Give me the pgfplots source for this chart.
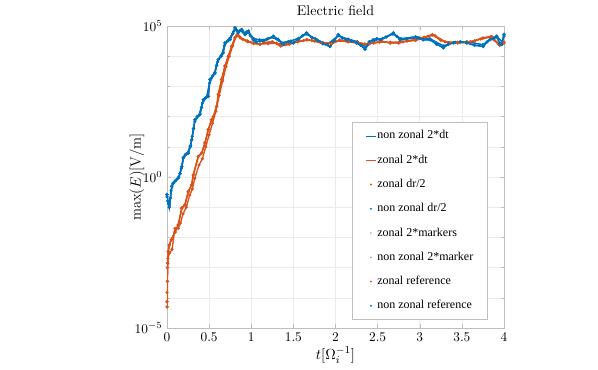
\documentclass[border=0pt]{standalone}
\usepackage{pgfplots}
\pgfplotsset{compat=1.18}
\usepackage{pgfplotstable}
\usepackage{fontspec}
\newfontfamily\legfont{Liberation Serif}
\definecolor{mblue}{RGB}{0,114,189}
\definecolor{morange}{RGB}{217,83,25}
\definecolor{gridc}{RGB}{235,235,235}
\definecolor{axc}{RGB}{190,190,190}

\pgfplotsset{
    lineleg/.style={legend image code/.code={\draw[##1] (0cm,0cm) -- (0.27cm,0cm);}},
    dotleg/.style={legend image code/.code={\path[draw=none] (0cm,0cm) -- (0.27cm,0cm); \fill[#1, draw=none] (0.13cm,0cm) circle (0.8pt);}},
    smalldotleg/.style={legend image code/.code={\path[draw=none] (0cm,0cm) -- (0.27cm,0cm); \fill[#1, draw=none] (0.13cm,0cm) circle (0.55pt);}},
}

% time in units of 1e4 / Omega_i, field in V/m
\pgfplotstableread{
t E
0.000 2.6e-1
0.010 1.6e-1
0.027 1.0e-1
0.040 2.0e-1
0.056 4.9e-1
0.075 6.3e-1
0.100 7.5e-1
0.134 9.3e-1
0.155 1.3e0
0.175 2.2e0
0.193 4.3e0
0.220 5.5e0
0.253 6.2e0
0.275 1.0e1
0.293 1.7e1
0.315 4.0e1
0.332 7.9e1
0.360 1.0e2
0.392 1.2e2
0.410 2.0e2
0.431 3.6e2
0.460 4.2e2
0.490 4.7e2
0.510 1.7e3
0.540 2.2e3
0.570 2.8e3
0.590 5.0e3
0.609 7.8e3
0.640 1.0e4
0.668 1.3e4
0.688 2.75e4
0.720 3.2e4
0.748 3.55e4
0.780 5.5e4
0.807 8.7e4
0.830 7.0e4
0.846 6.0e4
0.870 7.2e4
0.887 7.6e4
0.905 6.2e4
0.926 5.2e4
0.945 6.3e4
0.966 6.8e4
0.990 4.8e4
1.025 3.5e4
1.060 3.0e4
1.104 3.2e4
1.143 3.2e4
1.200 3.8e4
1.262 4.6e4
1.320 3.6e4
1.380 2.5e4
1.440 3.0e4
1.499 2.75e4
1.560 3.6e4
1.610 4.8e4
1.658 5.9e4
1.720 4.2e4
1.777 3.5e4
1.850 2.6e4
1.935 2.1e4
1.990 3.4e4
2.033 5.2e4
2.080 4.0e4
2.133 3.5e4
2.190 3.2e4
2.252 2.75e4
2.300 2.3e4
2.350 1.7e4
2.400 3.0e4
2.449 3.5e4
2.490 3.8e4
2.528 3.5e4
2.600 4.3e4
2.686 5.9e4
2.730 4.5e4
2.766 3.5e4
2.850 3.8e4
2.964 4.1e4
3.040 3.5e4
3.122 3.5e4
3.200 2.5e4
3.280 1.9e4
3.340 2.5e4
3.399 2.75e4
3.480 3.0e4
3.557 2.75e4
3.650 2.3e4
3.754 2.1e4
3.800 3.0e4
3.834 3.5e4
3.880 4.0e4
3.913 4.6e4
3.950 2.6e4
3.973 2.45e4
4.000 5.2e4
}\blueA

\pgfplotstableread{
t E
0.000 2.2e-1
0.015 1.3e-1
0.030 1.2e-1
0.050 3.5e-1
0.070 6.0e-1
0.110 8.0e-1
0.140 1.0e0
0.170 1.9e0
0.200 4.6e0
0.240 6.0e0
0.280 1.1e1
0.300 2.2e1
0.330 7.0e1
0.380 1.1e2
0.420 2.8e2
0.470 4.4e2
0.505 1.3e3
0.560 2.6e3
0.600 6.5e3
0.650 1.1e4
0.680 2.2e4
0.740 3.8e4
0.790 6.5e4
0.815 8.0e4
0.850 6.5e4
0.890 7.0e4
0.930 5.6e4
0.970 6.0e4
1.030 3.8e4
1.100 3.5e4
1.180 3.6e4
1.260 4.2e4
1.360 2.8e4
1.470 3.2e4
1.560 3.9e4
1.650 5.4e4
1.760 3.8e4
1.900 2.4e4
2.030 4.7e4
2.150 3.7e4
2.260 3.0e4
2.360 2.0e4
2.460 3.3e4
2.560 3.9e4
2.680 5.4e4
2.780 3.8e4
2.950 4.4e4
3.120 3.8e4
3.280 2.2e4
3.420 2.9e4
3.560 3.0e4
3.750 2.4e4
3.850 3.8e4
3.920 4.2e4
3.980 3.0e4
4.000 4.6e4
}\blueB

\pgfplotstableread{
t E
0.000 7.4e-5
0.002 5.0e-5
0.004 3.5e-4
0.008 1.4e-3
0.015 3.4e-3
0.027 5.6e-3
0.050 8.3e-3
0.095 1.5e-2
0.134 2.6e-2
0.175 9.3e-2
0.213 1.2e-1
0.253 3.3e-1
0.293 5.5e-1
0.312 1.17e0
0.372 4.8e0
0.412 6.2e0
0.451 1.35e1
0.490 3.7e1
0.530 7.9e1
0.550 1.0e2
0.590 2.2e2
0.609 5.4e2
0.649 1.7e3
0.688 4.7e3
0.728 1.0e4
0.768 2.1e4
0.807 4.1e4
0.834 5.2e4
0.870 4.1e4
0.950 3.2e4
1.025 2.75e4
1.104 2.45e4
1.150 2.8e4
1.250 3.0e4
1.350 2.2e4
1.450 2.5e4
1.550 3.0e4
1.660 3.5e4
1.750 3.2e4
1.850 2.8e4
1.950 2.6e4
2.050 3.4e4
2.150 3.0e4
2.250 2.9e4
2.350 2.5e4
2.450 2.75e4
2.550 3.1e4
2.650 2.75e4
2.750 2.75e4
2.850 3.2e4
2.950 3.5e4
3.050 4.2e4
3.150 5.2e4
3.250 3.4e4
3.350 2.8e4
3.450 2.75e4
3.550 2.9e4
3.650 3.2e4
3.750 4.0e4
3.850 4.5e4
3.950 2.3e4
4.000 2.9e4
}\orangeA

\pgfplotstableread{
t E
0.000 1.5e-4
0.003 1.0e-3
0.010 2.0e-3
0.030 3.0e-3
0.060 4.0e-3
0.095 2.0e-2
0.134 2.0e-2
0.160 3.0e-2
0.190 6.0e-2
0.230 1.0e-1
0.270 2.5e-1
0.300 4.0e-1
0.330 9.0e-1
0.380 2.5e0
0.420 4.0e0
0.460 1.0e1
0.500 2.5e1
0.540 6.0e1
0.580 1.5e2
0.620 5.0e2
0.660 1.5e3
0.700 4.5e3
0.740 1.0e4
0.780 2.2e4
0.820 4.5e4
0.850 4.8e4
0.900 3.6e4
0.960 3.0e4
1.030 2.6e4
1.100 2.5e4
1.200 2.6e4
1.300 2.7e4
1.400 2.4e4
1.500 2.8e4
1.620 3.3e4
1.720 3.3e4
1.850 2.6e4
2.000 3.1e4
2.120 3.2e4
2.250 2.7e4
2.400 2.6e4
2.520 2.9e4
2.650 2.9e4
2.800 3.0e4
2.950 3.3e4
3.100 4.6e4
3.180 4.8e4
3.300 3.0e4
3.450 2.9e4
3.600 3.0e4
3.720 3.7e4
3.830 4.2e4
3.930 2.6e4
4.000 2.7e4
}\orangeB

\begin{document}
\begin{tikzpicture}
\begin{axis}[
    scale only axis,
    width=252.75pt, height=226.5pt,
    xmin=0, xmax=4,
    ymode=log, ymin=1e-5, ymax=1e5,
    xtick={0,0.5,1,1.5,2,2.5,3,3.5,4},
    xticklabels={0,0.5,1,1.5,2,2.5,3,3.5,4},
    ytick={1e-5,1,1e5},
    minor ytick={1e-4,1e-3,1e-2,1e-1,1e1,1e2,1e3,1e4},
    grid=both,
    major grid style={gridc},
    minor grid style={gridc},
    axis line style={axc},
    tick style={axc},
    tick align=inside,
    major tick length=3pt,
    minor tick length=2pt,
    tick label style={font=\fontsize{10}{12}\selectfont, black},
    title={Electric field},
    every axis title shift=0pt,
    title style={at={(axis description cs:0.5,1.05)}, anchor=center, yshift=0pt, font=\fontsize{10.5}{12}\selectfont},
    xlabel={$t[\Omega_i^{-1}]$},
    xlabel style={at={(axis description cs:0.5,-0.09)}, anchor=center, font=\fontsize{11}{13}\selectfont},
    ylabel={$\max(E)[\mathrm{V/m}]$},
    ylabel style={at={(axis description cs:-0.089,0.5)}, anchor=center, rotate=0, font=\fontsize{11}{13}\selectfont},
    legend cell align=left,
    legend style={at={(axis description cs:0.549,0.682)}, anchor=north west,
        draw=axc, font=\legfont\fontsize{9}{10}\selectfont,
        row sep=8.7pt, inner xsep=10pt, inner ysep=5.5pt,
        nodes={inner sep=0.5pt, text height=6.5pt, text depth=2pt}},
]
% legend glyphs
\addlegendimage{mblue, line width=0.6pt, lineleg}
\addlegendentry{non zonal 2*dt}
\addlegendimage{morange, line width=0.6pt, lineleg}
\addlegendentry{zonal 2*dt}
\addlegendimage{dotleg=morange}
\addlegendentry{zonal dr/2}
\addlegendimage{dotleg=mblue}
\addlegendentry{non zonal dr/2}
\addlegendimage{smalldotleg=morange}
\addlegendentry{zonal 2*markers}
\addlegendimage{smalldotleg=mblue}
\addlegendentry{non zonal 2*marker}
\addlegendimage{dotleg=morange}
\addlegendentry{zonal reference}
\addlegendimage{dotleg=mblue}
\addlegendentry{non zonal reference}
% data
\addplot[mblue, line width=0.8pt, forget plot] table[x=t,y=E] {\blueB};
\addplot[morange, line width=0.8pt, forget plot] table[x=t,y=E] {\orangeA};
\addplot[morange, line width=1pt, mark=*, mark size=0.6pt, forget plot] table[x=t,y=E] {\orangeB};
\addplot[mblue, line width=1pt, mark=*, mark size=0.6pt, forget plot] table[x=t,y=E] {\blueB};
\addplot[morange, line width=0.8pt, mark=*, mark size=0.5pt, forget plot] table[x=t,y=E] {\orangeA};
\addplot[mblue, line width=0.8pt, mark=*, mark size=0.5pt, forget plot] table[x=t,y=E] {\blueA};
\addplot[morange, line width=1.2pt, mark=*, mark size=0.6pt, forget plot] table[x=t,y=E] {\orangeA};
\addplot[mblue, line width=1.2pt, mark=*, mark size=0.6pt, forget plot] table[x=t,y=E] {\blueA};
\node[font=\fontsize{10}{12}\selectfont] at (axis description cs:0.955,-0.083) {$\times10^{4}$};
\end{axis}
\pgfresetboundingbox
\path[use as bounding box] (-125.25pt,-31.5pt) rectangle (323.25pt,246pt);
\end{tikzpicture}
\end{document}
